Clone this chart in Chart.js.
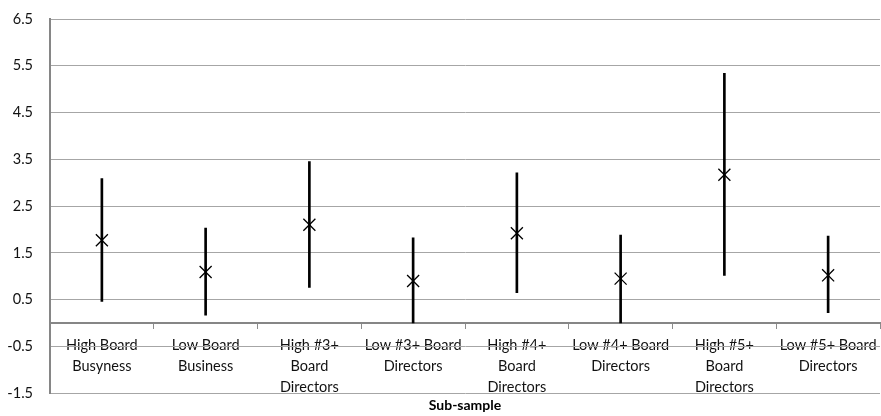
<!DOCTYPE html>
<html>
<head>
<meta charset="utf-8">
<script src="https://cdn.jsdelivr.net/npm/chart.js@4"></script>
<style>
  html, body { margin: 0; padding: 0; background: #ffffff; }
  #wrap { width: 881px; height: 416px; }
</style>
</head>
<body>
<div id="wrap"><canvas id="c" width="881" height="416"></canvas></div>
<script>
// Sub-sample categories (multi-line labels)
const categories = [
  ["High Board", "Busyness"],
  ["Low Board", "Business"],
  ["High #3+", "Board", "Directors"],
  ["Low #3+ Board", "Directors"],
  ["High #4+", "Board", "Directors"],
  ["Low #4+ Board", "Directors"],
  ["High #5+", "Board", "Directors"],
  ["Low #5+ Board", "Directors"]
];

// Point estimates and interval bounds
const meanValues  = [1.77, 1.09, 2.10, 0.90, 1.92, 0.95, 3.17, 1.02];
const lowerValues = [0.46, 0.17, 0.76, 0.00, 0.65, 0.00, 1.02, 0.22];
const upperValues = [3.09, 2.03, 3.45, 1.82, 3.21, 1.88, 5.34, 1.86];

// Value axis tick positions
const yTickValues = [-1.5, -0.5, 0.5, 1.5, 2.5, 3.5, 4.5, 5.5, 6.5];

const FONT = "Lato, 'Open Sans', sans-serif";

const intervals = lowerValues.map((lo, i) => [lo, upperValues[i]]);

new Chart(document.getElementById('c'), {
  data: {
    labels: categories,
    datasets: [
      {
        type: 'bar',
        label: 'Interval',
        data: intervals,
        backgroundColor: '#000000',
        borderWidth: 0,
        barThickness: 2,
        grouped: false,
        order: 2
      },
      {
        type: 'line',
        label: 'Estimate',
        data: meanValues,
        showLine: false,
        pointStyle: 'crossRot',
        pointRadius: 8.5,
        pointBorderWidth: 1.3,
        borderColor: '#000000',
        backgroundColor: '#000000',
        order: 1
      }
    ]
  },
  options: {
    responsive: false,
    animation: false,
    devicePixelRatio: 1,
    layout: { autoPadding: false, padding: { left: 0, right: 1, top: 19, bottom: 0 } },
    plugins: {
      legend: { display: false },
      tooltip: { enabled: false },
      title: {
        display: true,
        position: 'bottom',
        fullSize: false,
        text: 'Sub-sample',
        color: '#000000',
        font: { family: FONT, size: 14, weight: 'bold' },
        padding: { top: 4, bottom: 2 }
      }
    },
    scales: {
      x: {
        type: 'category',
        position: { y: 0 },
        offset: true,
        afterFit: (scale) => {
          scale.paddingLeft = 0;
          scale.paddingRight = 0;
        },
        grid: {
          drawOnChartArea: false,
          drawTicks: true,
          tickLength: 5,
          color: '#8c8c8c',
          offset: true
        },
        border: { color: '#868686', width: 2 },
        ticks: {
          z: -2,
          color: '#111111',
          font: { family: FONT, size: 14.5, lineHeight: 1.45 },
          padding: 7,
          maxRotation: 0,
          autoSkip: false
        }
      },
      y: {
        type: 'linear',
        min: -1.5,
        max: 6.5,
        afterBuildTicks: (scale) => {
          scale.ticks = yTickValues.map(v => ({ value: v }));
        },
        afterFit: (scale) => {
          scale.width = 50;
          scale.paddingTop = 0;
          scale.paddingBottom = 0;
        },
        grid: {
          color: '#a6a6a6',
          drawTicks: false,
          lineWidth: 1
        },
        border: { color: '#868686', width: 2 },
        ticks: {
          color: '#111111',
          font: { family: FONT, size: 14.5 },
          padding: 17,
          callback: (v) => Number(v).toFixed(1)
        }
      }
    }
  }
});
</script>
</body>
</html>
